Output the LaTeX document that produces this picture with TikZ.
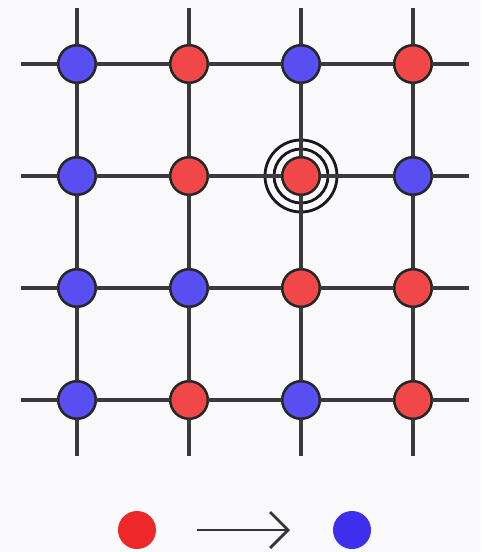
\documentclass[tikz,border=0pt]{standalone}
\usepackage{xcolor}
\usepackage{tikz}
\usetikzlibrary{arrows.meta, positioning}
\definecolor{siteblue}{RGB}{88,78,242}
\definecolor{sitered}{RGB}{240,72,72}
\definecolor{legblue}{RGB}{62,46,238}
\definecolor{legred}{RGB}{238,40,40}
\definecolor{gridgray}{RGB}{58,58,60}
\definecolor{paper}{RGB}{250,250,252}

\begin{document}
\begin{tikzpicture}[node distance=1.86cm,
  site/.style={circle,draw=black!85,line width=1.8pt,minimum size=0.94cm,inner sep=0pt,outer sep=0pt},
  bluesite/.style={site,fill=siteblue},
  redsite/.style={site,fill=sitered},
  legdot/.style={circle,minimum size=0.95cm,inner sep=0pt,outer sep=0pt},
  ring/.style={circle,draw=black!90,line width=2pt,inner sep=0pt,outer sep=0pt},
  bond/.style={gridgray,line width=2.9pt}]
\fill[paper] (-1.925,1.6) rectangle (10.1,-12.2);
\useasboundingbox (-1.925,1.6) rectangle (10.1,-12.2);
% sites
\node[bluesite] (a1) {};
\node[redsite,right=of a1] (a2) {};
\node[bluesite,right=of a2] (a3) {};
\node[redsite,right=of a3] (a4) {};
\node[bluesite,below=of a1] (b1) {};
\node[redsite,right=of b1] (b2) {};
\node[redsite,right=of b2] (b3) {};
\node[bluesite,right=of b3] (b4) {};
\node[bluesite,below=of b1] (c1) {};
\node[bluesite,right=of c1] (c2) {};
\node[redsite,right=of c2] (c3) {};
\node[redsite,right=of c3] (c4) {};
\node[bluesite,below=of c1] (d1) {};
\node[redsite,right=of d1] (d2) {};
\node[bluesite,right=of d2] (d3) {};
\node[redsite,right=of d3] (d4) {};
% the flipped site
\node[ring,minimum size=1.35cm] (r1) at (b3) {};
\node[ring,minimum size=1.8cm] (r2) at (b3) {};
% free ends of the bonds
\coordinate[left=1.4cm of a1.center] (a0);
\coordinate[right=1.4cm of a4.center] (a5);
\coordinate[left=1.4cm of b1.center] (b0);
\coordinate[right=1.4cm of b4.center] (b5);
\coordinate[left=1.4cm of c1.center] (c0);
\coordinate[right=1.4cm of c4.center] (c5);
\coordinate[left=1.4cm of d1.center] (d0);
\coordinate[right=1.4cm of d4.center] (d5);
\coordinate[above=1.4cm of a1.center] (t1);
\coordinate[above=1.4cm of a2.center] (t2);
\coordinate[above=1.4cm of a3.center] (t3);
\coordinate[above=1.4cm of a4.center] (t4);
\coordinate[below=1.4cm of d1.center] (u1);
\coordinate[below=1.4cm of d2.center] (u2);
\coordinate[below=1.4cm of d3.center] (u3);
\coordinate[below=1.4cm of d4.center] (u4);
\draw[bond] (a0) -- (a1) -- (a2) -- (a3) -- (a4) -- (a5);
\draw[bond] (b0) -- (b1) -- (b2) -- (b3) -- (b4) -- (b5);
\draw[bond] (c0) -- (c1) -- (c2) -- (c3) -- (c4) -- (c5);
\draw[bond] (d0) -- (d1) -- (d2) -- (d3) -- (d4) -- (d5);
\draw[bond] (t1) -- (a1) -- (b1) -- (c1) -- (d1) -- (u1);
\draw[bond] (t2) -- (a2) -- (b2) -- (c2) -- (d2) -- (u2);
\draw[bond] (t3) -- (a3) -- (b3) -- (c3) -- (d3) -- (u3);
\draw[bond] (t4) -- (a4) -- (b4) -- (c4) -- (d4) -- (u4);
% legend
\node[legdot,fill=legred] (lr) at (1.5,-11.65) {};
\node[legdot,fill=legblue,right=4.425cm of lr] (lb) {};
\draw[line width=2pt,black!80,-{Straight Barb[length=0.45cm,width=0.9cm,line width=2pt]},shorten <=1.5cm,shorten >=1.55cm] (lr.center) -- (lb.center);
\end{tikzpicture}
\end{document}
